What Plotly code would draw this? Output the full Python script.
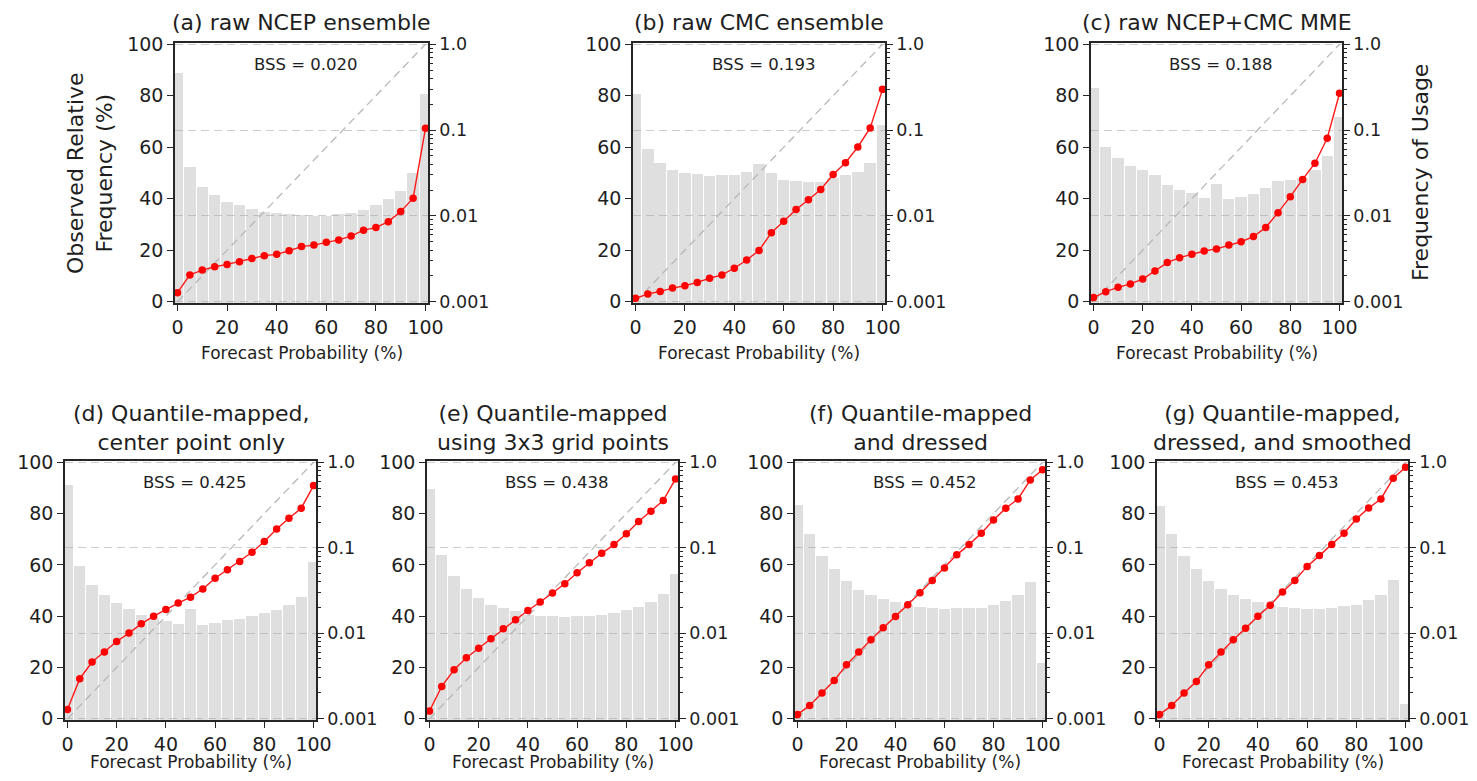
import plotly.graph_objects as go

# The page body keeps the browser's default 8px margin, so the figure is
# sized to fill the 1477x781 window exactly together with that margin.
PAGE_W, PAGE_H = 1477, 781
OFF = 8
W, H = PAGE_W - 2 * OFF, PAGE_H - 2 * OFF
FONT = "DejaVu Sans"
TXT = "#1e1e1e"
SPINE = "#262626"

# ---------------- data ----------------
forecast_prob = [0, 5, 10, 15, 20, 25, 30, 35, 40, 45, 50, 55, 60, 65, 70, 75, 80, 85, 90, 95, 100]

titles = [
    "(a) raw NCEP ensemble",
    "(b) raw CMC ensemble",
    "(c) raw NCEP+CMC MME",
    "(d) Quantile-mapped,<br>center point only",
    "(e) Quantile-mapped<br>using 3x3 grid points",
    "(f) Quantile-mapped<br>and dressed",
    "(g) Quantile-mapped,<br>dressed, and smoothed",
]
bss_values = ["0.020", "0.193", "0.188", "0.425", "0.438", "0.452", "0.453"]

# observed relative frequency (%)
obs_a = [3.5, 10.4, 12.3, 13.6, 14.5, 15.5, 16.8, 17.9, 18.4, 19.8, 21.4, 22.0, 23.1, 24.0, 25.5, 27.8, 28.8, 31.1, 35.0, 40.2, 67.4]
obs_b = [1.3, 3.0, 4.0, 5.3, 6.2, 7.5, 9.1, 10.4, 13.0, 16.2, 19.9, 26.8, 31.3, 35.8, 39.6, 43.6, 49.4, 54.0, 60.1, 67.5, 82.5]
obs_c = [1.6, 3.9, 5.6, 6.9, 8.8, 11.9, 15.2, 17.1, 18.4, 19.7, 20.5, 22.0, 23.3, 25.3, 28.8, 34.6, 40.8, 47.5, 53.8, 63.5, 81.0]
obs_d = [3.6, 15.6, 22.1, 26.0, 30.1, 33.4, 37.0, 40.0, 42.6, 45.1, 47.4, 50.6, 54.8, 58.1, 61.3, 64.9, 69.1, 74.0, 78.2, 82.1, 90.9]
obs_e = [3.0, 12.6, 19.1, 23.8, 27.5, 31.2, 35.1, 38.6, 42.2, 45.5, 49.0, 52.6, 56.9, 60.8, 64.5, 67.9, 72.1, 76.9, 80.9, 85.1, 93.5]
obs_f = [1.6, 5.2, 10.0, 14.9, 21.0, 26.0, 30.8, 35.5, 39.9, 44.4, 49.1, 53.9, 58.8, 63.9, 67.9, 72.3, 77.5, 82.1, 85.7, 93.1, 97.1]
obs_g = [1.6, 5.2, 10.0, 14.5, 21.0, 26.0, 30.8, 35.3, 40.0, 44.2, 49.4, 53.9, 59.4, 63.6, 67.9, 72.3, 77.9, 82.2, 85.7, 93.8, 98.1]

# frequency of usage
use_a = [0.468, 0.0368, 0.0219, 0.0176, 0.0147, 0.0134, 0.0119, 0.0112, 0.0107, 0.0105, 0.0103, 0.0100, 0.0100, 0.0104, 0.0107, 0.0117, 0.0134, 0.0157, 0.0195, 0.0314, 0.262]
use_b = [0.260, 0.0610, 0.0417, 0.0339, 0.0316, 0.0305, 0.0291, 0.0298, 0.0298, 0.0325, 0.0400, 0.0316, 0.0259, 0.0253, 0.0248, 0.0248, 0.0279, 0.0298, 0.0325, 0.0417, 0.114]
use_c = [0.307, 0.0640, 0.0469, 0.0381, 0.0344, 0.0299, 0.0229, 0.0200, 0.0183, 0.0161, 0.0233, 0.0157, 0.0167, 0.0178, 0.0213, 0.0255, 0.0262, 0.0274, 0.0344, 0.0499, 0.1435]
use_d = [0.548, 0.0618, 0.0368, 0.0277, 0.0227, 0.0190, 0.0165, 0.0150, 0.0139, 0.0129, 0.0190, 0.0125, 0.0132, 0.0141, 0.0148, 0.0158, 0.0172, 0.0188, 0.0215, 0.0264, 0.0676]
use_e = [0.488, 0.0826, 0.0462, 0.0325, 0.0259, 0.0215, 0.0198, 0.0181, 0.0165, 0.0158, 0.0158, 0.0154, 0.0157, 0.0158, 0.0164, 0.0173, 0.0185, 0.0202, 0.0232, 0.0289, 0.0495]
use_f = [0.318, 0.146, 0.0809, 0.0565, 0.0414, 0.0323, 0.0283, 0.0254, 0.0232, 0.0216, 0.0202, 0.0196, 0.0194, 0.0196, 0.0198, 0.0198, 0.0215, 0.0237, 0.0283, 0.0394, 0.00448]
use_g = [0.311, 0.146, 0.0809, 0.0565, 0.0414, 0.0330, 0.0283, 0.0254, 0.0232, 0.0215, 0.0202, 0.0196, 0.0194, 0.0194, 0.0198, 0.0206, 0.0215, 0.0242, 0.0283, 0.0423, 0.00149]

perfect_x = [0, 100]
perfect_y = [0, 100]

x_ticks = [0, 20, 40, 60, 80, 100]
y_ticks = [0, 20, 40, 60, 80, 100]
usage_ticks = [0.001, 0.01, 0.1, 1.0]
usage_ticktext = ["0.001", "0.01", "0.1", "1.0"]

obs_all = [obs_a, obs_b, obs_c, obs_d, obs_e, obs_f, obs_g]
use_all = [use_a, use_b, use_c, use_d, use_e, use_f, use_g]

# ---------------- layout geometry (page pixels) ----------------
boxes = [
    (175, 428, 43, 303),
    (633, 885, 43, 303),
    (1091, 1342, 43, 303),
    (65, 316, 461, 720),
    (427, 678, 461, 720),
    (795, 1045, 461, 720),
    (1157, 1408, 461, 720),
]


def px(xp):
    return (xp - OFF) / W


def py(yp):
    return 1 - (yp - OFF) / H


minor_vals = [k * 10.0 ** e for e in (-3, -2, -1) for k in range(2, 10)]

fig = go.Figure()
layout = dict(
    width=W, height=H,
    margin=dict(l=0, r=0, t=0, b=0, autoexpand=False),
    paper_bgcolor="white", plot_bgcolor="rgba(0,0,0,0)",
    showlegend=False,
    font=dict(family=FONT, color=TXT),
    bargap=0,
)
annotations = []
tickfont = dict(family=FONT, size=19, color=TXT)
tickfont_right = dict(family=FONT, size=17.5, color=TXT)

for i, (l, r, t, b) in enumerate(boxes):
    n = i + 1
    xname = "x" if n == 1 else f"x{n}"
    ylog = "y" if n == 1 else f"y{2 * n - 1}"
    ylin = f"y{2 * n}"
    xkey = "xaxis" if n == 1 else f"xaxis{n}"
    ylogkey = "yaxis" if n == 1 else f"yaxis{2 * n - 1}"
    ylinkey = f"yaxis{2 * n}"
    dom_x = [px(l), px(r)]
    dom_y = [py(b), py(t)]

    layout[xkey] = dict(
        domain=dom_x, anchor=ylog, range=[-1, 101], automargin=False,
        tickmode="array", tickvals=x_ticks,
        showline=True, mirror=True, linecolor=SPINE, linewidth=1.6,
        ticks="outside", ticklen=6, tickwidth=1.3, tickcolor=SPINE,
        tickfont=tickfont, showgrid=False, zeroline=False,
    )
    layout[ylogkey] = dict(
        domain=dom_y, anchor=xname, type="log", side="right",
        range=[-3.015, 0.015], automargin=False,
        tickmode="array", tickvals=usage_ticks, ticktext=usage_ticktext,
        showline=True, linecolor=SPINE, linewidth=1.6,
        ticks="outside", ticklen=6, tickwidth=1.3, tickcolor=SPINE,
        tickfont=tickfont_right, ticklabelstandoff=0,
        showgrid=True, gridcolor="#cdcdcd", gridwidth=1, griddash="8px,5px",
        minor=dict(tickmode="array", tickvals=minor_vals, ticks="outside",
                   ticklen=3.5, tickwidth=1, tickcolor=SPINE, showgrid=False),
        zeroline=False,
    )
    layout[ylinkey] = dict(
        domain=dom_y, anchor=xname, overlaying=ylog, side="left",
        range=[-0.5, 100.5], automargin=False,
        tickmode="array", tickvals=y_ticks,
        showline=True, linecolor=SPINE, linewidth=1.6,
        ticks="outside", ticklen=6, tickwidth=1.3, tickcolor=SPINE,
        tickfont=tickfont, showgrid=False, zeroline=False,
    )

    # frequency-of-usage histogram (log axis)
    fig.add_trace(go.Bar(
        x=forecast_prob, y=use_all[i], width=4.6,
        marker=dict(color="rgba(165,165,165,0.36)", line=dict(width=0)),
        xaxis=xname, yaxis=ylog, hoverinfo="skip",
    ))
    # perfect reliability diagonal
    fig.add_trace(go.Scatter(
        x=perfect_x, y=perfect_y, mode="lines",
        line=dict(color="#b8b8b8", width=1.3, dash="8px,5px"),
        xaxis=xname, yaxis=ylin, hoverinfo="skip",
    ))
    # reliability curve
    fig.add_trace(go.Scatter(
        x=forecast_prob, y=obs_all[i], mode="lines+markers",
        line=dict(color="#ff1a1a", width=1.4),
        marker=dict(color="#ff0000", size=7.5),
        xaxis=xname, yaxis=ylin,
    ))

    cx = (l + r) / 2
    ty = t - 33 if "<br>" in titles[i] else t - 21
    annotations.append(dict(
        text=titles[i], x=px(cx), y=py(ty), xref="paper", yref="paper",
        xanchor="center", yanchor="middle", showarrow=False,
        font=dict(family=FONT, size=22, color=TXT),
    ))
    annotations.append(dict(
        text=f"BSS = {bss_values[i]}", x=30, y=92, xref=xname, yref=ylin,
        xanchor="left", yanchor="middle", showarrow=False,
        font=dict(family=FONT, size=16.5, color=TXT),
    ))
    # x-axis title (bottom row kept inside the page)
    xt = min(b + 50, 762)
    annotations.append(dict(
        text="Forecast Probability (%)", x=px(cx), y=py(xt),
        xref="paper", yref="paper", xanchor="center", yanchor="middle",
        showarrow=False, font=dict(family=FONT, size=17, color=TXT),
    ))

# left y-axis title (panel a)
annotations.append(dict(
    text="Observed Relative<br>Frequency (%)", x=px(90), y=py(173),
    xref="paper", yref="paper", xanchor="center", yanchor="middle",
    textangle=-90, showarrow=False, font=dict(family=FONT, size=22, color=TXT),
))
# right y-axis title (panel c)
annotations.append(dict(
    text="Frequency of Usage", x=px(1420), y=py(173),
    xref="paper", yref="paper", xanchor="center", yanchor="middle",
    textangle=-90, showarrow=False, font=dict(family=FONT, size=22, color=TXT),
))

layout["annotations"] = annotations
fig.update_layout(**layout)

fig.write_html("out.html", config={"displayModeBar": False})
